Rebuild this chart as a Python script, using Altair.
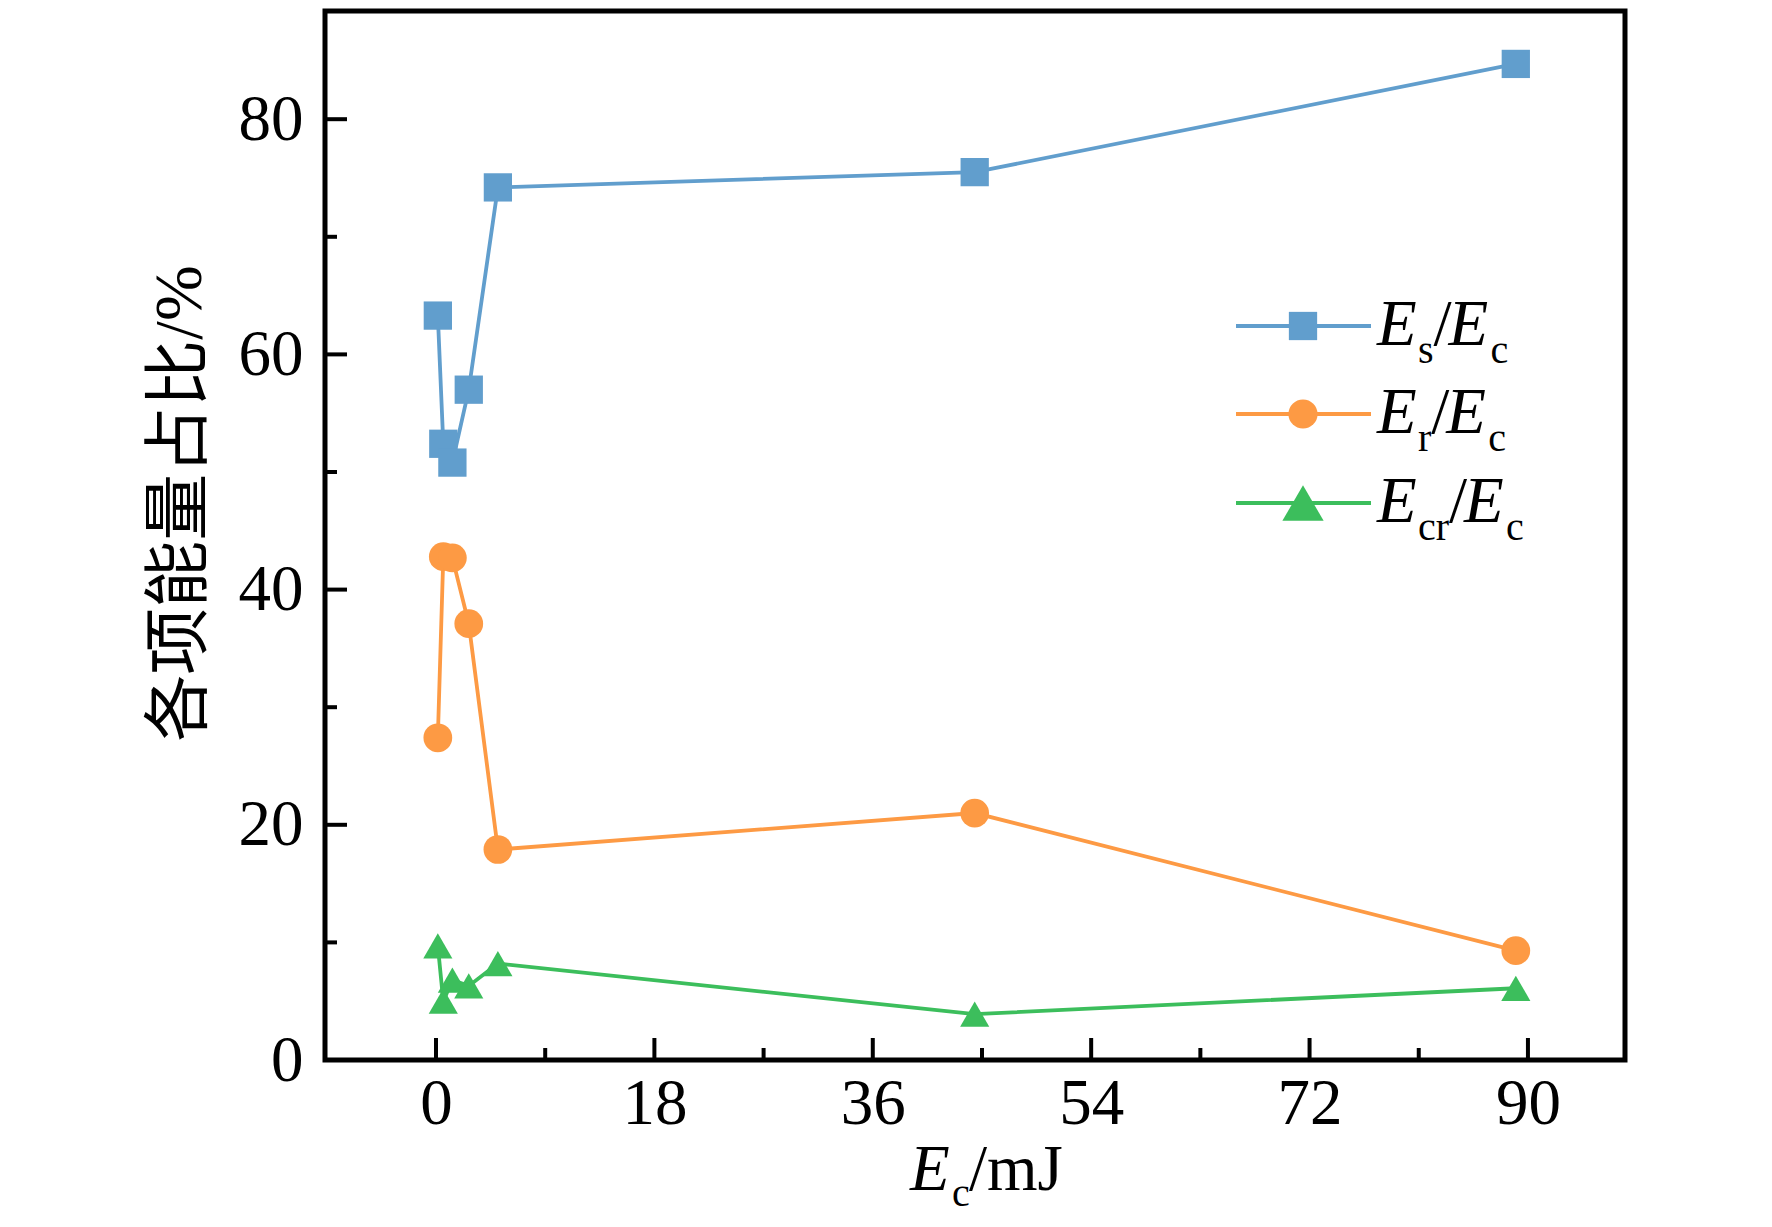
import altair as alt
import pandas as pd

# ---------------- data ----------------
x_ec = [0.15, 0.6, 1.35, 2.7, 5.1, 44.4, 89.0]
es_ratio = [63.3, 52.4, 50.8, 57.0, 74.2, 75.5, 84.7]
er_ratio = [27.4, 42.8, 42.7, 37.1, 17.9, 21.0, 9.3]
ecr_ratio = [9.7, 5.0, 6.8, 6.3, 8.2, 3.9, 6.1]
series_keys = ["Es/Ec", "Er/Ec", "Ecr/Ec"]
series_subs = ["s", "r", "cr"]
x_major = [0, 18, 36, 54, 72, 90]
x_minor = [9, 27, 45, 63, 81]
y_major = [0, 20, 40, 60, 80]
y_minor = [10, 30, 50, 70]
y_title = "各项能量占比/%"

# ---------------- styling ----------------
COLORS = ["#619ECD", "#FD9A44", "#3CBE5C"]
SHAPES = ["square", "circle", "triangle-up"]
SIZES = [800, 850, 1700]
W, H = 1300, 1049
X_DOMAIN = [-9.15, 98.0]
Y_DOMAIN = [0, 89.2]
SERIF = "Liberation Serif"
CJK = "Liberation Serif, Noto Sans CJK SC"
FS = 65
SUB = 40
LW = 3.8

rows = []
for key, vals in zip(series_keys, [es_ratio, er_ratio, ecr_ratio]):
    for xv, yv in zip(x_ec, vals):
        rows.append({"x": xv, "y": yv, "series": key})
df = pd.DataFrame(rows)
dummy = pd.DataFrame({"a": [0]})

xs = alt.Scale(domain=X_DOMAIN, nice=False, zero=False)
ys = alt.Scale(domain=Y_DOMAIN, nice=False, zero=False)
cs = alt.Scale(domain=series_keys, range=COLORS)
ss = alt.Scale(domain=series_keys, range=SHAPES)
zs = alt.Scale(domain=series_keys, range=SIZES)

x_axis = alt.Axis(values=x_major, title=None, grid=False, domain=False, ticks=False,
                  tickSize=0, labelPadding=12, labelFont=SERIF, labelFontSize=FS,
                  labelColor="black", labelFlush=False, labelOverlap=False, format="d")
y_axis = alt.Axis(values=y_major, title=y_title, grid=False, domain=False, ticks=False,
                  tickSize=0, labelPadding=22, labelFont=SERIF, labelFontSize=FS,
                  labelColor="black", labelFlush=False, labelOverlap=False, format="d",
                  titleFont=CJK, titleFontSize=67, titleFontWeight="normal",
                  titleColor="black", titleAngle=270, titleX=-145, titleY=492,
                  titleAlign="center", titleBaseline="middle")

X = lambda f: alt.X(f, scale=xs, axis=x_axis, title=None)
Y = lambda f: alt.Y(f, scale=ys, axis=y_axis, title=y_title)

lines = alt.Chart(df).mark_line(strokeWidth=LW).encode(
    x=X("x:Q"), y=Y("y:Q"),
    color=alt.Color("series:N", scale=cs, legend=None),
)
points = alt.Chart(df).mark_point(filled=True, opacity=1).encode(
    x=X("x:Q"), y=Y("y:Q"),
    color=alt.Color("series:N", scale=cs, legend=None),
    shape=alt.Shape("series:N", scale=ss, legend=None),
    size=alt.Size("series:N", scale=zs, legend=None),
)


def xticks(vals, length):
    return alt.Chart(pd.DataFrame({"x": vals})).mark_rule(color="black", strokeWidth=4).encode(
        x=X("x:Q"), y=alt.value(H), y2=alt.value(H - length))


def yticks(vals, length):
    return alt.Chart(pd.DataFrame({"y": vals})).mark_rule(color="black", strokeWidth=4).encode(
        y=Y("y:Q"), x=alt.value(0), x2=alt.value(length))


def txt(s, px, py, size, italic=False):
    return alt.Chart(dummy).mark_text(
        text=s, align="left", baseline="alphabetic", font=SERIF, fontSize=size,
        fontStyle="italic" if italic else "normal", color="black",
    ).encode(x=alt.value(px), y=alt.value(py))


layers = [lines, points,
          xticks(x_major, 22), xticks(x_minor, 12),
          yticks(y_major[1:], 22), yticks(y_minor, 12)]

# x-axis title: E_c/mJ
layers += [txt("E", 585, 1179, FS, True), txt("c", 627, 1195, SUB), txt("/mJ", 644, 1179, FS)]

# custom legend
LEG_ROWS = [315, 403, 492]
SUB_W = {"s": 15.6, "r": 13.3, "cr": 31.1}
for i, row in enumerate(LEG_ROWS):
    layers.append(alt.Chart(dummy).mark_rule(color=COLORS[i], strokeWidth=LW).encode(
        x=alt.value(911), x2=alt.value(1046), y=alt.value(row)))
    layers.append(alt.Chart(dummy).mark_point(
        filled=True, opacity=1, shape=SHAPES[i], size=SIZES[i], color=COLORS[i]).encode(
        x=alt.value(978), y=alt.value(row)))
    base = row + 19
    x0 = 1052
    sx = x0 + 41
    sl = sx + SUB_W[series_subs[i]]
    e2 = sl + 15
    layers += [txt("E", x0, base, FS, True), txt(series_subs[i], sx, base + 18, SUB),
               txt("/", sl, base, FS), txt("E", e2, base, FS, True),
               txt("c", e2 + 42, base + 18, SUB)]

chart = alt.layer(*layers).properties(
    width=W, height=H,
    autosize=alt.AutoSizeParams(type="none"),
    padding={"left": 317, "top": 3, "right": 100, "bottom": 165},
    background="white",
).configure_view(stroke="black", strokeWidth=5)

chart.save("out.html", embed_options={"renderer": "svg", "actions": False})
